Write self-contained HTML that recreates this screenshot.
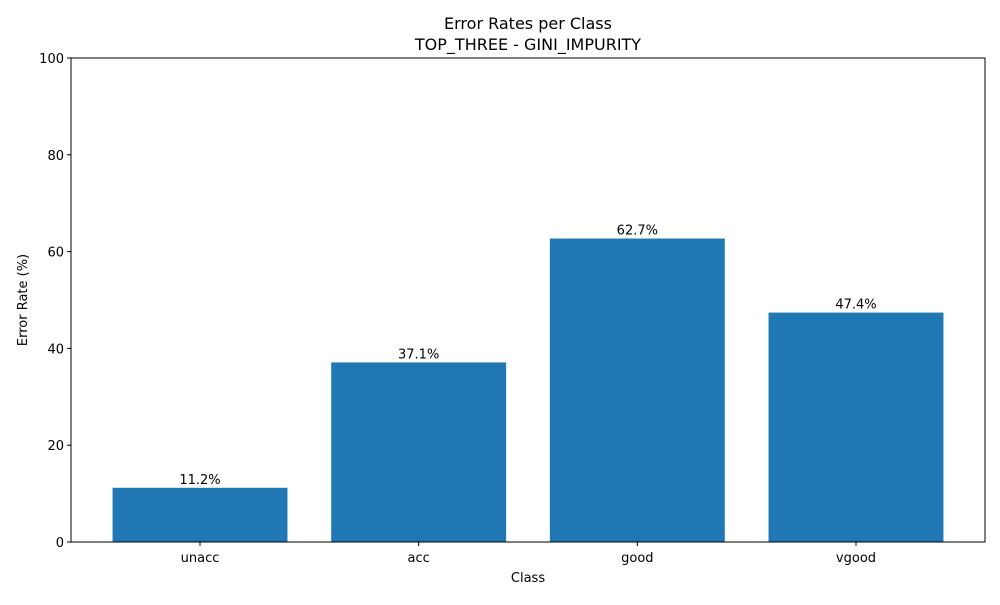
<!DOCTYPE html>
<html><head><meta charset="utf-8"><style>
body{margin:0;background:#fff;font-family:"Liberation Sans","DejaVu Sans",sans-serif;}
</style></head><body>
<svg id="chart" width="1000" height="600" xmlns="http://www.w3.org/2000/svg" font-family="'DejaVu Sans','Liberation Sans',sans-serif">
<rect width="1000" height="600" fill="#fff"/>
<text x="528" y="29" font-size="16" text-anchor="middle">Error Rates per Class</text>
<text x="528" y="50" font-size="16" text-anchor="middle">TOP_THREE - GINI_IMPURITY</text>
<g id="bars"></g>
<g id="axes"></g>
<rect x="71" y="58" width="914" height="484" fill="none" stroke="#000" stroke-width="1"/>
<text x="528" y="582" font-size="13" text-anchor="middle">Class</text>
<text transform="translate(27,300) rotate(-90)" font-size="13" text-anchor="middle">Error Rate (%)</text>
</svg>
<script>
const categories = ["unacc","acc","good","vgood"];
const errorRates = [11.2,37.1,62.7,47.4];
const yTicks = [0,20,40,60,80,100];
const NS="http://www.w3.org/2000/svg";
const L=71,R=985,T=58,B=542;
const xMin=-0.59,xMax=3.59,yMin=0,yMax=100;
const xs=v=>L+(v-xMin)/(xMax-xMin)*(R-L);
const ys=v=>B-(v-yMin)/(yMax-yMin)*(B-T);
function mk(tag,attrs,parent){const e=document.createElementNS(NS,tag);for(const k in attrs)e.setAttribute(k,attrs[k]);parent.appendChild(e);return e;}
const bars=document.getElementById('bars'),axes=document.getElementById('axes');
categories.forEach((c,i)=>{
  const v=errorRates[i];
  const r=mk('rect',{x:xs(i-0.4),y:ys(v),width:xs(i+0.4)-xs(i-0.4),height:ys(0)-ys(v),fill:'#1f77b4'},bars);
  
  
  const t=mk('text',{x:xs(i),y:ys(v)-4,'font-size':13,'text-anchor':'middle'},bars);
  t.textContent=v.toFixed(1)+'%';
  
  
  const tk=mk('line',{x1:xs(i),x2:xs(i),y1:B,y2:B+4,stroke:'#000'},axes);
  
  
  const tl=mk('text',{x:xs(i),y:B+20,'font-size':13,'text-anchor':'middle'},axes);
  tl.textContent=c;
  
  
});
yTicks.forEach(v=>{
  const tk=mk('line',{x1:L-4,x2:L,y1:ys(v),y2:ys(v),stroke:'#000'},axes);
  
  
  const tl=mk('text',{x:L-7,y:ys(v)+5,'font-size':13,'text-anchor':'end'},axes);
  tl.textContent=v;
  
  
});
</script>
</body></html>
